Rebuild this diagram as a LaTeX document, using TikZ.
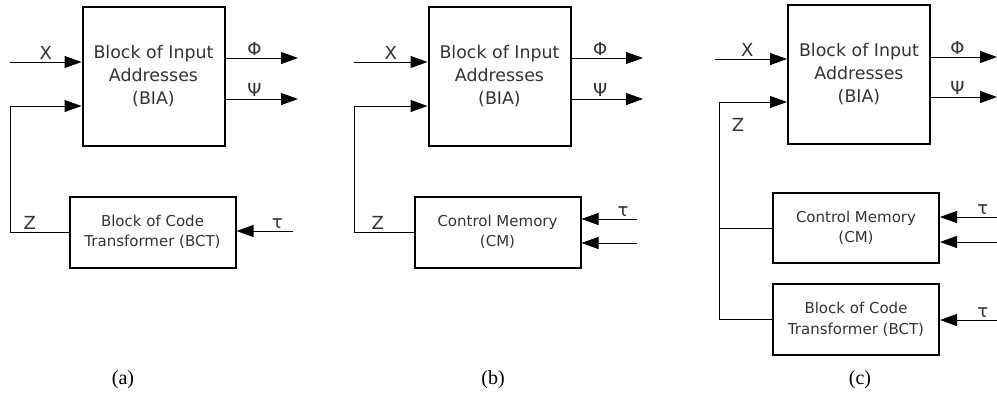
\documentclass[tikz,border=0pt]{standalone}
\usepackage{fontspec}
\setmainfont{DejaVu Sans}
\newfontfamily\capfont{Liberation Serif}
\usetikzlibrary{arrows.meta}

\begin{document}
\begin{tikzpicture}[x=1pt, y=-1pt, >={Triangle[length=17pt,width=12pt]},
  bigblock/.style={draw, line width=2pt, align=center, text=black!80,
    minimum width=142pt, minimum height=139pt, inner sep=0pt,
    font=\fontsize{17.4}{23}\selectfont},
  smallblock/.style={draw, line width=2pt, align=center, text=black!80,
    minimum width=166pt, minimum height=71pt, inner sep=0pt,
    font=\fontsize{15}{20.5}\selectfont},
  wire/.style={line width=1pt},
  sig/.style={font=\fontsize{18}{20}\selectfont, text=black!80, inner sep=2pt},
  caption/.style={font=\capfont\fontsize{20}{22}\selectfont}]
  \useasboundingbox (0,0) rectangle (997,400);

  % (a) BIA with code transformer
  \node[bigblock] (biaA) at (153.5,76.5) {Block of Input\\Addresses\\(BIA)};
  \node[smallblock] (bctA) at (152.5,232) {Block of Code\\Transformer (BCT)};
  \coordinate (xinA) at (10,62);
  \coordinate (zupA) at (10,106);
  \coordinate (phiA) at (298,58);
  \coordinate (psiA) at (298,99);
  \coordinate (tauA) at (293,231);
  \draw[wire,->] (xinA) -- node[sig, above, pos=0.5] {X} (xinA -| biaA.west);
  \draw[wire,->] (bctA.west) -- node[sig, above, pos=0.66] {Z} (bctA.west -| zupA)
    -- (zupA) -- (zupA -| biaA.west);
  \draw[wire,->] (phiA -| biaA.east) -- node[sig, above, pos=0.4] {Φ} (phiA);
  \draw[wire,->] (psiA -| biaA.east) -- node[sig, above, pos=0.4] {Ψ} (psiA);
  \draw[wire,->] (tauA) -- node[sig, above, pos=0.28] {τ} (tauA -| bctA.east);
  \node[caption] (capA) at (123,380) {(a)};

  % (b) BIA with control memory
  \node[bigblock] (biaB) at (499.5,76.5) {Block of Input\\Addresses\\(BIA)};
  \node[smallblock] (cmB) at (497.5,232) {Control Memory\\(CM)};
  \coordinate (xinB) at (354,62);
  \coordinate (zupB) at (354,106);
  \coordinate (phiB) at (643,58);
  \coordinate (psiB) at (643,99);
  \coordinate (tauB) at (637,219);
  \coordinate (inB) at (637,243);
  \draw[wire,->] (xinB) -- node[sig, above, pos=0.5] {X} (xinB -| biaB.west);
  \draw[wire,->] (cmB.west) -- node[sig, above, pos=0.6] {Z} (cmB.west -| zupB)
    -- (zupB) -- (zupB -| biaB.west);
  \draw[wire,->] (phiB -| biaB.east) -- node[sig, above, pos=0.4] {Φ} (phiB);
  \draw[wire,->] (psiB -| biaB.east) -- node[sig, above, pos=0.4] {Ψ} (psiB);
  \draw[wire,->] (tauB) -- node[sig, above, pos=0.25] {τ} (tauB -| cmB.east);
  \draw[wire,->] (inB) -- (inB -| cmB.east);
  \node[caption] (capB) at (493,380) {(b)};

  % (c) BIA with control memory and code transformer
  \node[bigblock] (biaC) at (859,74) {Block of Input\\Addresses\\(BIA)};
  \node[smallblock, minimum height=70pt] (cmC) at (856,228) {Control Memory\\(CM)};
  \node[smallblock] (bctC) at (856,319.5) {Block of Code\\Transformer (BCT)};
  \coordinate (xinC) at (715,59);
  \coordinate (zupC) at (719,102);
  \coordinate (phiC) at (997,57);
  \coordinate (psiC) at (997,97);
  \coordinate (tauC) at (997,217);
  \coordinate (inC) at (997,242);
  \coordinate (taubC) at (997,320);
  \draw[wire,->] (xinC) -- node[sig, above, pos=0.45] {X} (xinC -| biaC.west);
  \draw[wire,->] (bctC.west) -- (bctC.west -| zupC) -- (zupC)
    -- (zupC -| biaC.west);
  \draw[wire] (cmC.west) -- (cmC.west -| zupC);
  \node[sig] (zC) at (738,125) {Z};
  \draw[wire,->] (phiC -| biaC.east) -- node[sig, above, pos=0.4] {Φ} (phiC);
  \draw[wire,->] (psiC -| biaC.east) -- node[sig, above, pos=0.4] {Ψ} (psiC);
  \draw[wire,->] (tauC) -- node[sig, above, pos=0.25] {τ} (tauC -| cmC.east);
  \draw[wire,->] (inC) -- (inC -| cmC.east);
  \draw[wire,->] (taubC) -- node[sig, above, pos=0.25] {τ} (taubC -| bctC.east);
  \node[caption] (capC) at (860,380) {(c)};
\end{tikzpicture}
\end{document}
